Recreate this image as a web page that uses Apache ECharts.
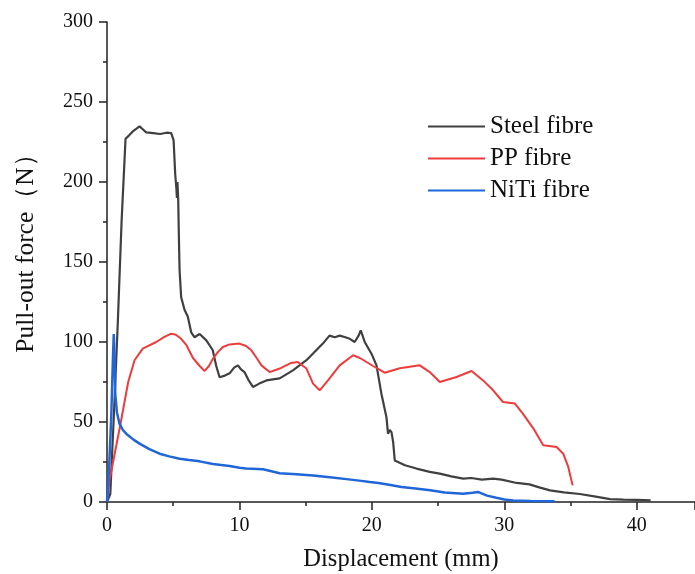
<!DOCTYPE html>
<html>
<head>
<meta charset="utf-8">
<script src="https://cdn.jsdelivr.net/npm/echarts@6/dist/echarts.min.js"></script>
<style>
html,body{margin:0;padding:0;background:#fff;}
#chart{width:695px;height:574px;}
</style>
</head>
<body>
<div id="chart"></div>
<script>
var seriesNames = ['Steel fibre', 'PP fibre', 'NiTi fibre'];
var xTicks = [0, 10, 20, 30, 40];
var yTicks = [0, 50, 100, 150, 200, 250, 300];
var xTitle = 'Displacement (mm)';
var yTitle = 'Pull-out force（N）';

var steel = [[0,0],[0.25,5],[0.55,60],[0.82,113],[1.1,175],[1.4,227],[1.65,229],[2.0,232],[2.46,234.8],[2.7,233],[2.96,231],[3.5,230.5],[4.0,230],[4.5,230.8],[4.85,230.6],[5.03,226],[5.15,205],[5.23,197],[5.28,190],[5.32,200],[5.38,188],[5.43,165],[5.48,145],[5.6,128],[5.86,120],[6.1,116],[6.36,106],[6.6,103],[7.0,105],[7.5,101],[7.98,95],[8.25,85],[8.5,78],[8.9,79],[9.26,80.4],[9.6,84],[9.89,85.4],[10.1,83],[10.4,81],[10.7,76],[11.02,71.9],[11.5,74],[12.03,76],[13.04,77.3],[14.04,82.3],[15.06,88.6],[15.8,94.8],[16.3,99],[16.8,104],[17.2,103],[17.57,104],[18.0,103],[18.33,102],[18.7,100],[19.0,104],[19.16,107.3],[19.3,104],[19.46,100],[19.97,92.7],[20.35,85.4],[20.72,67.7],[21.1,53],[21.22,42.7],[21.35,45],[21.48,43.7],[21.6,38],[21.73,26],[22.5,23],[23.37,20.9],[24.37,18.8],[25.13,17.7],[26.0,16],[26.9,14.6],[27.5,15],[28.3,14],[29.16,14.6],[29.8,14],[30.93,11.9],[31.9,11.0],[32.7,9],[33.45,7.3],[34.5,6],[35.7,5.0],[36.8,3.5],[37.98,1.8],[39.0,1.5],[40.0,1.3],[41.05,1]];

var pp = [[0,0],[0.19,13.6],[1.0,48],[1.6,75],[2.08,88.6],[2.7,95.9],[3.72,100],[4.3,103],[4.85,105.2],[5.2,104.5],[5.6,102],[6.0,98],[6.49,90],[7.0,85],[7.37,81.9],[7.7,85],[8.0,89.6],[8.4,94],[8.75,96.9],[9.26,98.5],[10.0,99],[10.5,97.5],[10.9,94.8],[11.3,90],[11.66,85.4],[12.28,81.2],[13.04,83.4],[13.9,86.9],[14.4,87.5],[15.06,83.4],[15.56,74],[16.06,69.8],[16.69,76],[17.57,85.4],[18.58,91.7],[19.1,90],[20.09,85],[20.97,80.8],[22.1,83.6],[23.62,85.4],[24.37,81.2],[25.13,75],[26.39,78.1],[27.53,81.9],[28.4,76],[29.16,69.8],[29.9,62.5],[30.8,61.5],[31.4,55.2],[32.2,45.9],[32.94,35.4],[33.95,34.4],[34.45,30.2],[34.83,21.9],[35.16,10.4]];

var niti = [[0,0],[0.15,20],[0.32,53],[0.45,90],[0.51,105],[0.57,106],[0.6,80],[0.62,67.7],[0.75,56],[0.94,49],[1.2,45],[1.45,42.7],[2.0,39],[2.46,36.5],[3.2,33],[3.97,30.2],[4.7,28.5],[5.48,27],[6.2,26.2],[6.99,25.4],[8.0,23.8],[9.26,22.5],[10.0,21.4],[10.5,20.9],[11.78,20.5],[13.04,18],[14.3,17.3],[15.56,16.5],[16.82,15.4],[18.08,14.3],[19.2,13.2],[19.84,12.5],[20.5,11.9],[21.3,10.8],[22.24,9.4],[23.3,8.5],[24.4,7.3],[25.5,6],[26.9,5.2],[27.6,5.8],[28.0,6.3],[28.7,4],[29.4,2.7],[30.0,1.6],[30.67,1],[32,0.6],[33.8,0.4]];

var colors = ['#404040', '#ee3b3b', '#1f66d9'];
var serif = "'Liberation Serif','Times New Roman',serif";

var chart = echarts.init(document.getElementById('chart'), null, {renderer: 'canvas'});
function mkSeries(name, data, color, w) {
  return {
    name: name, type: 'line', data: data, showSymbol: false, symbol: 'none',
    lineStyle: {color: color, width: w}, itemStyle: {color: color},
    animation: false
  };
}
chart.setOption({
  backgroundColor: '#fff',
  animation: false,
  grid: {left: 107, right: 0, top: 22, bottom: 72, containLabel: false, outerBoundsMode: 'none'},
  legend: {
    orient: 'vertical', left: 423, top: 109,
    icon: 'rect', itemWidth: 57, itemHeight: 2, itemGap: 7,
    textStyle: {fontFamily: serif, fontSize: 25, color: '#111', lineHeight: 25},
    data: seriesNames
  },
  xAxis: {
    type: 'value', min: 0, max: 44.4, interval: 10,
    name: xTitle, nameLocation: 'middle', nameGap: 58,
    nameTextStyle: {fontFamily: serif, fontSize: 24.5, color: '#111', verticalAlign: 'middle'},
    axisLine: {show: true, onZero: false, lineStyle: {color: '#222', width: 1.5}},
    axisTick: {show: true, inside: false, length: 8, lineStyle: {color: '#222', width: 1.5}},
    minorTick: {show: true, splitNumber: 2, length: 4, lineStyle: {color: '#222', width: 1.5}},
    splitLine: {show: false},
    axisLabel: {fontFamily: serif, fontSize: 20, color: '#111', margin: 14, showMaxLabel: false,
      formatter: function (v) { return xTicks.indexOf(v) >= 0 ? String(v) : ''; }}
  },
  yAxis: {
    type: 'value', min: 0, max: 300, interval: 50,
    name: yTitle, nameLocation: 'middle', nameGap: 81,
    nameTextStyle: {fontFamily: serif, fontSize: 25.5, color: '#111', verticalAlign: 'middle', padding: [0, 0, 0, 30]},
    axisLine: {show: true, onZero: false, lineStyle: {color: '#222', width: 1.5}},
    axisTick: {show: true, inside: false, length: 8, lineStyle: {color: '#222', width: 1.5}},
    minorTick: {show: true, splitNumber: 2, length: 4, lineStyle: {color: '#222', width: 1.5}},
    splitLine: {show: false},
    axisLabel: {fontFamily: serif, fontSize: 20, color: '#111', margin: 14,
      formatter: function (v) { return yTicks.indexOf(v) >= 0 ? String(v) : ''; }}
  },
  series: [
    mkSeries(seriesNames[0], steel, colors[0], 2.2),
    mkSeries(seriesNames[1], pp, colors[1], 2),
    mkSeries(seriesNames[2], niti, colors[2], 2.5)
  ]
});
</script>
</body>
</html>
